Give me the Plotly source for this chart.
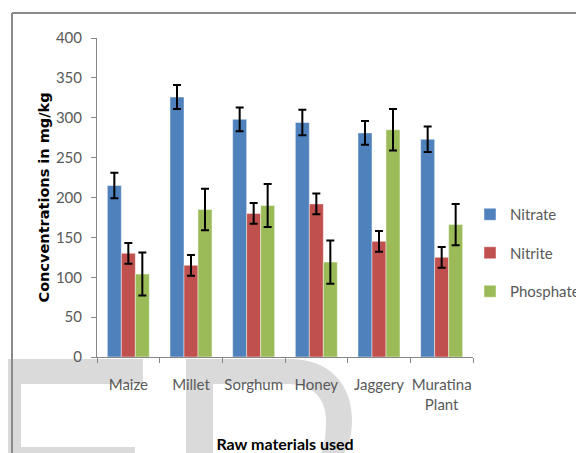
import plotly.graph_objects as go

categories = ["Maize", "Millet", "Sorghum", "Honey", "Jaggery", "Muratina<br>Plant"]
nitrate = [215, 326, 298, 294, 281, 273]
nitrate_err = [16, 15, 15, 16, 15, 16]
nitrite = [130, 115, 180, 192, 145, 125]
nitrite_err = [13, 13, 13, 13, 13, 13]
phosphate = [104, 185, 190, 119, 285, 166]
phosphate_err = [27, 26, 27, 27, 26, 26]
y_ticks = [0, 50, 100, 150, 200, 250, 300, 350, 400]

# the page places the figure 8px in from the top-left corner of the window
OFF = 8
W, H = 584 - OFF, 453 - OFF
L, R, T, B = 89, 111, 30, 96
PW, PH = W - L - R, H - T - B

def px(x):  # window pixel -> paper
    return (x - OFF - L) / PW

def py(y):
    return (H - B - (y - OFF)) / PH

series = [
    ("Nitrate", nitrate, nitrate_err, "#4F81BD"),
    ("Nitrite", nitrite, nitrite_err, "#C0504D"),
    ("Phosphate", phosphate, phosphate_err, "#9BBB59"),
]

TICK_FONT = dict(family="Lato, sans-serif", size=15, color="#595959")

fig = go.Figure()
for name, vals, errs, col in series:
    fig.add_trace(go.Bar(
        x=categories, y=vals, name=name, legendgroup=name,
        marker=dict(color=col, line=dict(color="rgba(255,255,255,0.45)", width=1)),
        error_y=dict(type="data", array=errs, visible=True, color="#000000",
                     thickness=2, width=4),
    ))

wm = "#dadada"
shapes = []

def rect(x0, y0, x1, y1, color):
    return dict(type="rect", xref="paper", yref="paper", x0=px(x0), x1=px(x1),
                y0=py(y1), y1=py(y0), fillcolor=color, line=dict(width=0), layer="below")

# watermark letters (decorative, behind everything)
shapes.append(rect(0, 359, 143, 384, wm))
shapes.append(rect(0, 359, 21, 460, wm))
shapes.append(rect(21, 447, 135, 460, wm))
shapes.append(rect(186, 359, 213, 460, wm))

def P(x, y):
    return f"{px(x)},{py(y)}"

outer = (f"M {P(213,359)} L {P(290,359)} C {P(330,359)} {P(352,385)} {P(352,420)} "
         f"C {P(352,440)} {P(346,453)} {P(338,460)} L {P(318,460)} "
         f"C {P(324,450)} {P(326,438)} {P(326,420)} C {P(326,398)} {P(312,384)} {P(288,384)} "
         f"L {P(213,384)} Z")
shapes.append(dict(type="path", xref="paper", yref="paper", path=outer,
                   fillcolor=wm, line=dict(width=0), layer="below"))

# outer frame
frame = dict(color="#8a8a8a", width=2)
shapes.append(dict(type="line", xref="paper", yref="paper", x0=px(12), x1=px(600),
                   y0=py(13), y1=py(13), line=frame))
shapes.append(dict(type="line", xref="paper", yref="paper", x0=px(12), x1=px(12),
                   y0=py(13), y1=py(470), line=frame))

fig.update_layout(
    width=W, height=H,
    margin=dict(l=L, r=R, t=T, b=B, autoexpand=False),
    paper_bgcolor="white", plot_bgcolor="rgba(0,0,0,0)",
    barmode="group", bargap=0.33, bargroupgap=0,
    showlegend=True,
    legend=dict(x=px(470), xanchor="left", y=py(198), yanchor="top",
                font=TICK_FONT, tracegroupgap=16, bgcolor="rgba(0,0,0,0)"),
    shapes=shapes,
    xaxis=dict(
        type="category", showline=True, linecolor="#868686", linewidth=1,
        ticks="outside", tickson="boundaries", ticklen=5, tickcolor="#868686",
        tickfont=TICK_FONT, ticklabelstandoff=14, tickangle=0, automargin=False,
        title=dict(text="<b>Raw materials used</b>", standoff=30,
                   font=dict(family="Lato, sans-serif", size=16, color="#000000")),
    ),
    yaxis=dict(
        range=[0, 400], tickvals=y_ticks, showgrid=False, zeroline=False,
        showline=True, linecolor="#868686", linewidth=1,
        ticks="outside", ticklen=5, tickcolor="#868686", automargin=False,
        tickfont=TICK_FONT, ticklabelstandoff=6,
        title=dict(text="<b>Concventrations in mg/kg</b>", standoff=2,
                   font=dict(family="DejaVu Sans", size=14.5, color="#000000")),
    ),
)

fig.write_html("out.html")
